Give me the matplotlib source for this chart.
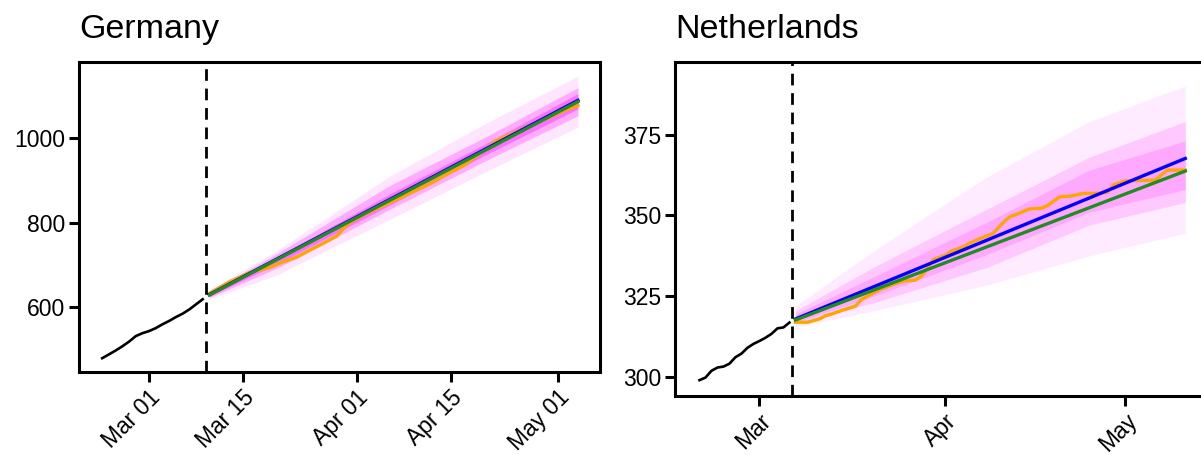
import matplotlib
matplotlib.use("Agg")
import matplotlib.pyplot as plt
import matplotlib.dates as mdates
import pandas as pd

plt.rcParams["font.family"] = ["Liberation Sans", "DejaVu Sans"]

# ---- Germany -------------------------------------------------------------
de_obs_dates = pd.date_range("2020-02-23", "2020-03-09")
de_obs = [480, 489, 498, 508, 519, 532, 539, 544, 551, 560, 568, 577, 585, 595, 607, 619]

de_actual_dates = pd.to_datetime([
    "2020-03-10", "2020-03-13", "2020-03-16", "2020-03-19", "2020-03-21", "2020-03-23",
    "2020-03-25", "2020-03-27", "2020-03-29", "2020-03-30", "2020-03-31", "2020-04-02",
    "2020-04-05", "2020-04-08", "2020-04-10", "2020-04-12", "2020-04-14", "2020-04-17",
    "2020-04-20", "2020-04-22", "2020-04-24", "2020-04-27", "2020-04-30", "2020-05-02",
    "2020-05-04"])
de_actual = [633, 660, 682, 694, 707, 718, 735, 751, 768, 786, 800, 818,
             840, 862, 877, 892, 910, 935, 970, 995, 1008, 1030, 1050, 1064, 1076]

de_fit_dates = pd.to_datetime(["2020-03-10", "2020-04-06", "2020-05-04"])
de_blue = [630, 855, 1088]
de_green = [629, 853, 1085]

de_fan_dates = pd.to_datetime(["2020-03-10", "2020-03-20", "2020-04-06", "2020-04-20", "2020-05-04"])
de_fan_lo_wide = [619, 676, 808, 918, 1025]
de_fan_hi_wide = [641, 733, 910, 1032, 1145]
de_fan_lo = [623, 692, 832, 944, 1052]
de_fan_hi = [636, 726, 888, 1000, 1118]
de_fan_lo_core = [626, 702, 842, 958, 1068]
de_fan_hi_core = [633, 718, 868, 984, 1104]

# ---- Netherlands ---------------------------------------------------------
nl_obs_dates = pd.date_range("2020-02-20", "2020-03-06")
nl_obs = [299.1, 299.9, 302.0, 303.0, 303.3, 304.2, 306.2, 307.3, 309.1, 310.3,
          311.2, 312.2, 313.4, 315.1, 315.4, 316.9]

nl_actual_dates = pd.to_datetime([
    "2020-03-07", "2020-03-09", "2020-03-11", "2020-03-12", "2020-03-13", "2020-03-15",
    "2020-03-17", "2020-03-18", "2020-03-19", "2020-03-21", "2020-03-23", "2020-03-25",
    "2020-03-27", "2020-03-28", "2020-03-29", "2020-03-30", "2020-04-01", "2020-04-02",
    "2020-04-04", "2020-04-05", "2020-04-07", "2020-04-09", "2020-04-10", "2020-04-11",
    "2020-04-12", "2020-04-13", "2020-04-15", "2020-04-17", "2020-04-18", "2020-04-20",
    "2020-04-22", "2020-04-24", "2020-04-26", "2020-04-28", "2020-04-29", "2020-05-01",
    "2020-05-06", "2020-05-08", "2020-05-11"])
nl_actual = [317, 317, 318, 319, 319.5, 320.8, 322, 324, 325, 327, 328.5, 329.7,
             330, 331.3, 333.6, 336.4, 337.7, 339, 340.3, 341.4, 343, 344.5, 346.5, 348.5,
             349.8, 350.4, 352, 352.2, 353, 355.7, 356, 356.8, 356.8, 357.1, 359.4, 360.7,
             360.9, 364, 364]

nl_fit_dates = pd.to_datetime(["2020-03-07", "2020-05-11"])
nl_blue = [318.0, 367.6]
nl_green = [317.7, 363.7]

nl_fan_dates = pd.to_datetime(["2020-03-07", "2020-03-20", "2020-04-08", "2020-04-25", "2020-05-11"])
nl_fan_lo_wide = [315.5, 320.5, 328.5, 337.5, 344.5]
nl_fan_hi_wide = [322, 339, 362, 379, 390]
nl_fan_lo = [316.5, 323, 334, 347, 354]
nl_fan_hi = [320.5, 334, 352, 368, 379]
nl_fan_lo_core = [317, 325, 338, 351, 358]
nl_fan_hi_core = [319.5, 331, 348, 364, 373]


def draw_panel(ax, title, obs_dates, obs, cut, fan_dates, fans, fan_alphas,
               act_dates, act, fit_dates, blue, green):
    for (lo, hi), alpha in zip(fans, fan_alphas):
        ax.fill_between(fan_dates, lo, hi, color="magenta", alpha=alpha, linewidth=0)
    ax.plot(act_dates, act, color="orange", linewidth=2.4)
    ax.plot(fit_dates, blue, color="blue", linewidth=2.4)
    ax.plot(fit_dates, green, color="forestgreen", linewidth=2.4)
    ax.plot(obs_dates, obs, color="black", linewidth=1.9)
    ax.axvline(pd.Timestamp(cut), color="black", linewidth=2.0, linestyle=(0, (4.2, 2.8)))

    ax.set_title(title, loc="left", fontsize=24.5, pad=17)
    for side in ax.spines.values():
        side.set_linewidth(2.2)
    ax.tick_params(direction="out", length=7, width=2.2, labelsize=16.5, pad=3)
    for lab in ax.get_xticklabels():
        lab.set_rotation(45)
        lab.set_ha("right")
        lab.set_rotation_mode("anchor")


fig = plt.figure(figsize=(12.01, 4.55), dpi=100)
ax1 = fig.add_axes([79 / 1201, 83 / 455, 521 / 1201, 310 / 455])
ax2 = fig.add_axes([675 / 1201, 59.3 / 455, 535 / 1201, 333.7 / 455])

ax1.set_xlim(pd.Timestamp("2020-02-19 13:00"), pd.Timestamp("2020-05-07 07:00"))
ax1.set_ylim(447.5, 1178.5)
ax1.set_yticks([600, 800, 1000])
ax1.xaxis.set_major_locator(mdates.DayLocator(bymonthday=[1, 15]))
ax1.xaxis.set_major_formatter(mdates.DateFormatter("%b %d"))

ax2.set_xlim(pd.Timestamp("2020-02-15 22:00"), pd.Timestamp("2020-05-15 03:00"))
ax2.set_ylim(294.3, 397.4)
ax2.set_yticks([300, 325, 350, 375])
ax2.xaxis.set_major_locator(mdates.MonthLocator())
ax2.xaxis.set_major_formatter(mdates.DateFormatter("%b"))

draw_panel(ax1, "Germany", de_obs_dates, de_obs, "2020-03-09 12:00", de_fan_dates,
           [(de_fan_lo_wide, de_fan_hi_wide), (de_fan_lo, de_fan_hi), (de_fan_lo_core, de_fan_hi_core)],
           [0.10, 0.25, 0.35],
           de_actual_dates, de_actual, de_fit_dates, de_blue, de_green)
draw_panel(ax2, "Netherlands", nl_obs_dates, nl_obs, "2020-03-06 12:00", nl_fan_dates,
           [(nl_fan_lo_wide, nl_fan_hi_wide), (nl_fan_lo, nl_fan_hi), (nl_fan_lo_core, nl_fan_hi_core)],
           [0.08, 0.14, 0.16],
           nl_actual_dates, nl_actual, nl_fit_dates, nl_blue, nl_green)

fig.savefig("out.png", dpi=100)
